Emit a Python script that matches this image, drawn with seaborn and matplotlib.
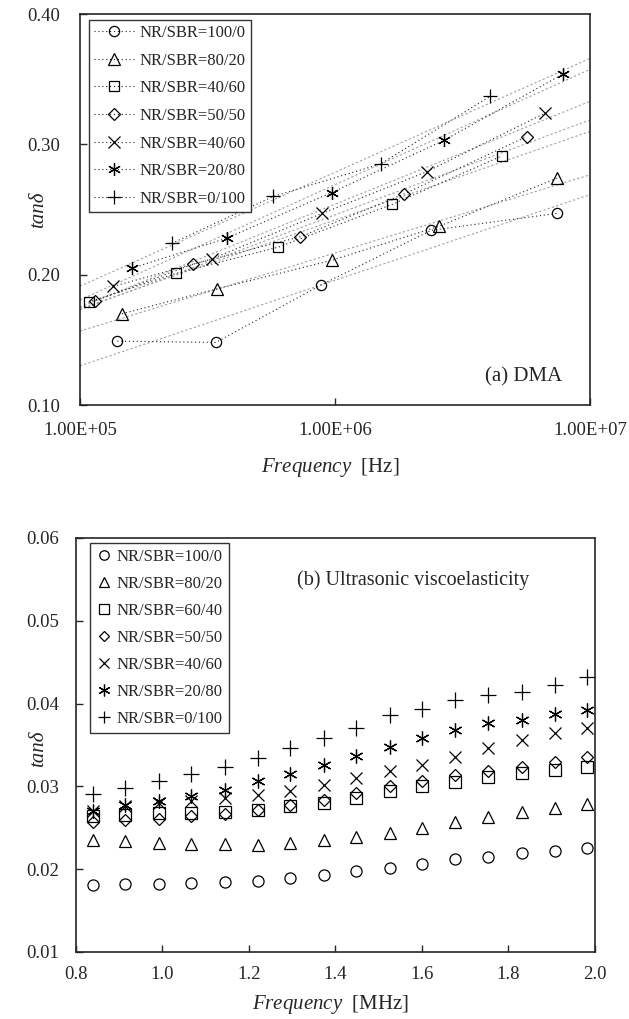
import numpy as np
import pandas as pd
import matplotlib
matplotlib.use("Agg")
import matplotlib.pyplot as plt
import seaborn as sns

# ---------------- data: (a) DMA ----------------
dma_labels = ["NR/SBR=100/0", "NR/SBR=80/20", "NR/SBR=40/60", "NR/SBR=50/50",
              "NR/SBR=40/60", "NR/SBR=20/80", "NR/SBR=0/100"]
dma_f_100_0 = [1.40e5, 3.41e5, 8.8e5, 2.38e6, 7.4e6]
dma_t_100_0 = [0.149, 0.148, 0.192, 0.234, 0.247]
dma_f_80_20 = [1.46e5, 3.43e5, 9.7e5, 2.55e6, 7.4e6]
dma_t_80_20 = [0.170, 0.189, 0.211, 0.237, 0.274]
dma_f_60_40 = [1.08e5, 2.38e5, 5.96e5, 1.68e6, 4.5e6]
dma_t_60_40 = [0.179, 0.201, 0.221, 0.254, 0.291]
dma_f_50_50 = [1.15e5, 2.77e5, 7.3e5, 1.87e6, 5.65e6]
dma_t_50_50 = [0.180, 0.208, 0.229, 0.262, 0.306]
dma_f_40_60 = [1.35e5, 3.28e5, 8.9e5, 2.29e6, 6.67e6]
dma_t_40_60 = [0.191, 0.212, 0.247, 0.279, 0.324]
dma_f_20_80 = [1.60e5, 3.76e5, 9.7e5, 2.67e6, 7.85e6]
dma_t_20_80 = [0.205, 0.228, 0.263, 0.303, 0.354]
dma_f_0_100 = [2.29e5, 5.73e5, 1.51e6, 4.07e6]
dma_t_0_100 = [0.224, 0.260, 0.285, 0.337]
dma_xticks = [1e5, 1e6, 1e7]
dma_xticklabels = ["1.00E+05", "1.00E+06", "1.00E+07"]
dma_yticks = [0.10, 0.20, 0.30, 0.40]

# ---------------- data: (b) Ultrasonic ----------------
us_labels = ["NR/SBR=100/0", "NR/SBR=80/20", "NR/SBR=60/40", "NR/SBR=50/50",
             "NR/SBR=40/60", "NR/SBR=20/80", "NR/SBR=0/100"]
us_freq = [0.840, 0.914, 0.991, 1.067, 1.144, 1.221, 1.295, 1.374,
           1.447, 1.525, 1.601, 1.677, 1.752, 1.831, 1.908, 1.981]
us_100_0 = [0.0181, 0.0182, 0.0182, 0.0183, 0.0184, 0.0186, 0.0189, 0.0193,
            0.0198, 0.0202, 0.0206, 0.0212, 0.0215, 0.0219, 0.0222, 0.0226]
us_80_20 = [0.0235, 0.0234, 0.0232, 0.0231, 0.0230, 0.0229, 0.0232, 0.0235,
            0.0239, 0.0244, 0.0250, 0.0257, 0.0263, 0.0269, 0.0274, 0.0279]
us_60_40 = [0.0264, 0.0266, 0.0268, 0.0268, 0.0269, 0.0272, 0.0276, 0.0280,
            0.0286, 0.0294, 0.0300, 0.0305, 0.0311, 0.0316, 0.0320, 0.0324]
us_50_50 = [0.0257, 0.0259, 0.0261, 0.0264, 0.0267, 0.0272, 0.0277, 0.0284,
            0.0292, 0.0301, 0.0307, 0.0314, 0.0319, 0.0324, 0.0330, 0.0336]
us_40_60 = [0.0270, 0.0276, 0.0280, 0.0282, 0.0286, 0.0290, 0.0295, 0.0302,
            0.0310, 0.0318, 0.0326, 0.0336, 0.0346, 0.0356, 0.0364, 0.0370]
us_20_80 = [0.0270, 0.0278, 0.0282, 0.0288, 0.0296, 0.0306, 0.0315, 0.0326,
            0.0337, 0.0348, 0.0359, 0.0368, 0.0376, 0.0380, 0.0387, 0.0392]
us_0_100 = [0.0291, 0.0298, 0.0306, 0.0315, 0.0324, 0.0334, 0.0346, 0.0359,
            0.0370, 0.0386, 0.0394, 0.0404, 0.0410, 0.0414, 0.0422, 0.0432]
us_xticks = [0.8, 1.0, 1.2, 1.4, 1.6, 1.8, 2.0]
us_yticks = [0.01, 0.02, 0.03, 0.04, 0.05, 0.06]

# ---------------- style ----------------
sns.set_style("ticks")
plt.rcParams["font.family"] = ["Liberation Serif", "DejaVu Serif"]
plt.rcParams["mathtext.fontset"] = "custom"
plt.rcParams["mathtext.rm"] = "Liberation Serif"
plt.rcParams["mathtext.it"] = "Liberation Serif:italic"
plt.rcParams["axes.linewidth"] = 1.2

markers = ["o", "^", "s", "D", "x", (6, 2, 0), "+"]
msizes = [8, 9, 8, 6.5, 9, 10, 11]
TICK_FS = 13.5
LEG_FS = 12.0
LAB_FS = 15

W, H = 629, 1019
fig = plt.figure(figsize=(W / 100, H / 100), dpi=100)

def rect(l, r, t, b):
    return [l / W, 1 - b / H, (r - l) / W, (b - t) / H]

# ================= (a) DMA =================
ax1 = fig.add_axes(rect(80, 590, 14, 405))
dma_f = [dma_f_100_0, dma_f_80_20, dma_f_60_40, dma_f_50_50, dma_f_40_60, dma_f_20_80, dma_f_0_100]
dma_t = [dma_t_100_0, dma_t_80_20, dma_t_60_40, dma_t_50_50, dma_t_40_60, dma_t_20_80, dma_t_0_100]
xs_full = np.logspace(5, 7, 50)
for f, t, lab, m, ms in zip(dma_f, dma_t, dma_labels, markers, msizes):
    # trend line (fit in log-frequency), gray dotted
    c = np.polyfit(np.log10(f), t, 1)
    ax1.plot(xs_full, np.polyval(c, np.log10(xs_full)), color="#a0a0a0",
             lw=0.8, ls=(0, (2, 2)), zorder=1)
    df = pd.DataFrame({"f": f, "t": t})
    sns.lineplot(data=df, x="f", y="t", ax=ax1, label=lab, color="#222222",
                 lw=0.8, ls=(0, (1, 2.5)), marker=m, markersize=ms * 0.92,
                 markerfacecolor="none", markeredgecolor="black",
                 markeredgewidth=0.9, zorder=3)
ax1.set_xscale("log")
ax1.set_xlim(1e5, 1e7)
ax1.set_ylim(0.10, 0.40)
ax1.set_xticks(dma_xticks)
ax1.set_xticklabels(dma_xticklabels)
ax1.xaxis.set_minor_locator(matplotlib.ticker.NullLocator())
ax1.set_yticks(dma_yticks)
ax1.yaxis.set_major_formatter(matplotlib.ticker.FormatStrFormatter("%.2f"))
ax1.tick_params(axis="both", direction="in", labelsize=TICK_FS, length=5, width=1.0)
ax1.tick_params(axis="x", pad=12)
ax1.tick_params(axis="y", pad=14)
ax1.set_xlabel(r"$\mathit{Frequency}$  [Hz]", fontsize=LAB_FS)
ax1.xaxis.set_label_coords(0.49, -0.161)
ax1.xaxis.label.set_va("center")
ax1.set_ylabel("tanδ", fontsize=LAB_FS, fontstyle="italic")
ax1.yaxis.set_label_coords(-0.082, 0.50)
ax1.yaxis.label.set_va("center")
leg1 = ax1.legend(loc="upper left", bbox_to_anchor=(0.0176, 0.985), borderaxespad=0,
                  fontsize=LEG_FS, frameon=True, fancybox=False, edgecolor="#333333",
                  framealpha=1, handlelength=2.4, handletextpad=0.35,
                  labelspacing=0.7, borderpad=0.3)
leg1.get_frame().set_linewidth(1.0)
ax1.text(0.945, 0.072, "(a) DMA", transform=ax1.transAxes, ha="right", va="center",
         fontsize=15)

# ================= (b) Ultrasonic =================
ax2 = fig.add_axes(rect(76, 595, 538, 952))
us_vals = [us_100_0, us_80_20, us_60_40, us_50_50, us_40_60, us_20_80, us_0_100]
for v, lab, m, ms in zip(us_vals, us_labels, markers, msizes):
    df = pd.DataFrame({"f": us_freq, "t": v})
    sns.lineplot(data=df, x="f", y="t", ax=ax2, label=lab, ls="", marker=m,
                 markersize=ms, markerfacecolor="none", markeredgecolor="black",
                 markeredgewidth=0.9, color="black")
ax2.set_xlim(0.8, 2.0)
ax2.set_ylim(0.01, 0.06)
ax2.set_xticks(us_xticks)
ax2.set_yticks(us_yticks)
ax2.xaxis.set_major_formatter(matplotlib.ticker.FormatStrFormatter("%.1f"))
ax2.yaxis.set_major_formatter(matplotlib.ticker.FormatStrFormatter("%.2f"))
ax2.tick_params(axis="both", direction="in", labelsize=TICK_FS, length=5, width=1.0)
ax2.tick_params(axis="x", pad=10)
ax2.tick_params(axis="y", pad=12)
ax2.set_xlabel(r"$\mathit{Frequency}$  [MHz]", fontsize=LAB_FS)
ax2.xaxis.set_label_coords(0.49, -0.128)
ax2.xaxis.label.set_va("center")
ax2.set_ylabel("tanδ", fontsize=LAB_FS, fontstyle="italic")
ax2.yaxis.set_label_coords(-0.073, 0.49)
ax2.yaxis.label.set_va("center")
leg2 = ax2.legend(loc="upper left", bbox_to_anchor=(0.027, 0.988), borderaxespad=0,
                  fontsize=LEG_FS, frameon=True, fancybox=False, edgecolor="#333333",
                  framealpha=1, handlelength=1.0, handletextpad=0.25,
                  labelspacing=0.66, borderpad=0.35, markerscale=0.85)
leg2.get_frame().set_linewidth(1.0)
ax2.text(0.426, 0.899, "(b) Ultrasonic viscoelasticity", transform=ax2.transAxes,
         ha="left", va="center", fontsize=14.5)

fig.savefig("out.png", dpi=100)
